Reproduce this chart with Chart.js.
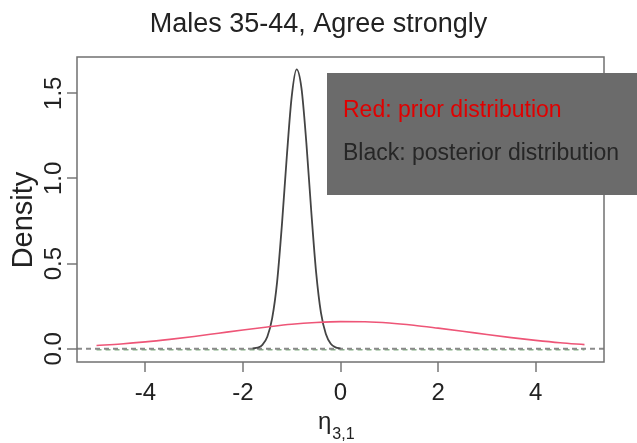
<!DOCTYPE html>
<html>
<head>
<meta charset="utf-8">
<script src="https://cdn.jsdelivr.net/npm/chart.js@4.4.1/dist/chart.umd.min.js"></script>
<style>
  html, body { margin: 0; padding: 0; background: #fff; }
</style>
</head>
<body>
<canvas id="myChart" width="637" height="443"></canvas>
<script>
const FONT = "'Liberation Sans', Arial, Helvetica, sans-serif";

// prior density (red)
const priorX = [-5, -4.5, -4, -3.5, -3, -2.5, -2, -1.5, -1, -0.5, 0, 0.5, 1, 1.5, 2, 2.5, 3, 3.5, 4, 4.5, 5];
const priorY = [0.019, 0.028, 0.040, 0.055, 0.072, 0.091, 0.110, 0.128, 0.144, 0.154, 0.159, 0.158, 0.151, 0.138, 0.121, 0.103, 0.083, 0.065, 0.049, 0.035, 0.024];

// posterior density (black)
const postX = [-1.8, -1.7, -1.6, -1.5, -1.4, -1.3, -1.2, -1.1, -1.0, -0.9, -0.8, -0.7, -0.6, -0.5, -0.4, -0.3, -0.2, -0.1, 0];
const postY = [0.002, 0.006, 0.023, 0.07, 0.18, 0.39, 0.73, 1.13, 1.48, 1.64, 1.53, 1.21, 0.81, 0.45, 0.21, 0.086, 0.029, 0.008, 0.002];

const xTicks = [-4, -2, 0, 2, 4];
const yTicks = [0, 0.5, 1, 1.5];
const yTickLabels = ["0.0", "0.5", "1.0", "1.5"];

const titleText = "Males 35-44, Agree strongly";
const yLabel = "Density";
const legendLines = ["Red: prior distribution", "Black: posterior distribution"];
const legendColors = ["#e00000", "#262626"];

const toPoints = (xs, ys) => xs.map((x, i) => ({ x: x, y: ys[i] }));

// box, zero lines, titles and the grey legend panel
const decorations = {
  id: "decorations",
  beforeDatasetsDraw(chart) {
    const { ctx, chartArea: a, scales: { x, y } } = chart;
    const y0 = y.getPixelForValue(0);
    ctx.save();
    ctx.lineWidth = 1.5;
    ctx.setLineDash([5, 4]);
    ctx.strokeStyle = "#86b086";
    ctx.beginPath();
    ctx.moveTo(x.getPixelForValue(-5), y0 + 1);
    ctx.lineTo(x.getPixelForValue(5), y0 + 1);
    ctx.stroke();
    ctx.strokeStyle = "#8a8a8a";
    ctx.lineWidth = 2;
    ctx.beginPath();
    ctx.moveTo(a.left, y0);
    ctx.lineTo(a.right, y0);
    ctx.stroke();
    ctx.restore();
  },
  afterDatasetsDraw(chart) {
    const { ctx, chartArea: a } = chart;
    ctx.save();
    ctx.strokeStyle = "#707070";
    ctx.lineWidth = 1.5;
    ctx.strokeRect(a.left, a.top, a.right - a.left, a.bottom - a.top);

    // legend panel
    ctx.fillStyle = "#6b6b6b";
    ctx.fillRect(327, 73, 310, 122);
    ctx.font = "23px " + FONT;
    ctx.textAlign = "left";
    ctx.textBaseline = "alphabetic";
    ctx.fillStyle = legendColors[0];
    ctx.fillText(legendLines[0], 343, 117);
    ctx.fillStyle = legendColors[1];
    ctx.fillText(legendLines[1], 343, 160);

    // title
    ctx.fillStyle = "#222";
    ctx.textAlign = "center";
    ctx.font = "27px " + FONT;
    ctx.fillText(titleText, 318.5, 32);

    // x label: eta with subscript
    ctx.textAlign = "left";
    ctx.font = "24px " + FONT;
    ctx.fillText("η", 318, 429);
    const w = ctx.measureText("η").width;
    ctx.font = "16px " + FONT;
    ctx.fillText("3,1", 318 + w + 1, 439);

    // y label
    ctx.translate(32, 220);
    ctx.rotate(-Math.PI / 2);
    ctx.textAlign = "center";
    ctx.font = "29px " + FONT;
    ctx.fillText(yLabel, 0, 0);
    ctx.restore();
  }
};

const ctx = document.getElementById("myChart").getContext("2d");
const chart = new Chart(ctx, {
  type: "line",
  data: {
    datasets: [
      {
        label: "prior",
        data: toPoints(priorX, priorY),
        borderColor: "#ee5577",
        borderWidth: 1.6,
        pointRadius: 0,
        cubicInterpolationMode: "monotone",
        fill: false,
      },
      {
        label: "posterior",
        data: toPoints(postX, postY),
        borderColor: "#444",
        borderWidth: 1.8,
        pointRadius: 0,
        cubicInterpolationMode: "monotone",
        fill: false,
      },
    ],
  },
  options: {
    responsive: false,
    animation: false,
    layout: { padding: { left: 0, right: 33, top: 57, bottom: 0 } },
    plugins: {
      legend: { display: false },
      tooltip: { enabled: false },
      title: { display: false },
    },
    scales: {
      x: {
        type: "linear",
        min: -5.4,
        max: 5.4,
        afterBuildTicks: (scale) => { scale.ticks = xTicks.map((v) => ({ value: v })); },
        afterFit: (scale) => { scale.height = 81; },
        grid: { drawOnChartArea: false, drawTicks: true, tickLength: 10, color: "#999", lineWidth: 2 },
        border: { display: false },
        ticks: { font: { size: 24, family: FONT }, color: "#222", padding: 7, maxRotation: 0, autoSkip: false },
      },
      y: {
        type: "linear",
        min: -0.078,
        max: 1.713,
        afterBuildTicks: (scale) => { scale.ticks = yTicks.map((v) => ({ value: v })); },
        afterFit: (scale) => { scale.width = 77; },
        grid: { drawOnChartArea: false, drawTicks: true, tickLength: 10, color: "#999", lineWidth: 2 },
        border: { display: false },
        ticks: {
          font: { size: 24, family: FONT },
          color: "#222",
          minRotation: 90,
          maxRotation: 90,
          crossAlign: "center",
          padding: -4,
          autoSkip: false,
          callback: (value, index) => yTickLabels[index],
        },
      },
    },
  },
  plugins: [decorations],
});
</script>
</body>
</html>
